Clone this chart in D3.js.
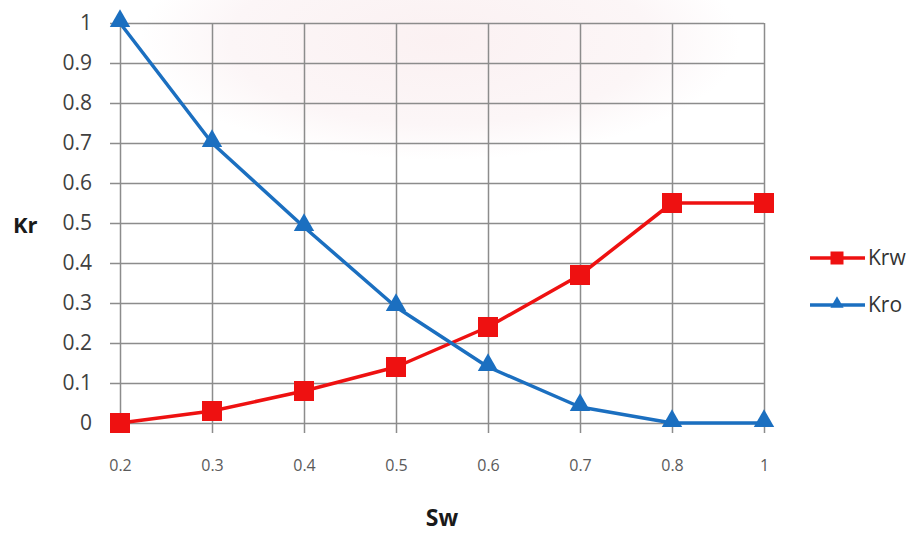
<!DOCTYPE html>
<html>
<head>
<meta charset="utf-8">
<script src="https://cdn.jsdelivr.net/npm/d3@7/dist/d3.min.js"></script>
<style>
  html, body { margin: 0; padding: 0; background: #fff; }
  svg { display: block; }
  text { font-family: "Open Sans", "Liberation Sans", sans-serif; }
</style>
</head>
<body>
<svg id="chart" width="914" height="533"></svg>
<script>
// Water saturation categories (evenly spaced on the axis)
const categories = ["0.2", "0.3", "0.4", "0.5", "0.6", "0.7", "0.8", "1"];
// Relative permeability to water
const krw = [0, 0.03, 0.08, 0.14, 0.24, 0.37, 0.55, 0.55];
// Relative permeability to oil
const kro = [1, 0.7, 0.49, 0.29, 0.14, 0.04, 0, 0];
// Vertical axis ticks
const yTicks = [0, 0.1, 0.2, 0.3, 0.4, 0.5, 0.6, 0.7, 0.8, 0.9, 1];
const yTickLabels = ["0", "0.1", "0.2", "0.3", "0.4", "0.5", "0.6", "0.7", "0.8", "0.9", "1"];

const series = [
  { name: "Krw", values: krw, color: "#ee1111", marker: "square" },
  { name: "Kro", values: kro, color: "#1b6fc0", marker: "triangle" }
];

const svg = d3.select("#chart");
const plotLeft = 120, plotRight = 764, plotTop = 23, plotBottom = 423;

const x = d3.scalePoint().domain(categories).range([plotLeft, plotRight]);
const y = d3.scaleLinear().domain([0, 1]).range([plotBottom, plotTop]);

// faint tint in the upper background
const defs = svg.append("defs");
const grad = defs.append("radialGradient").attr("id", "tint");
grad.append("stop").attr("offset", "0%").attr("stop-color", "#fbf1f2");
grad.append("stop").attr("offset", "70%").attr("stop-color", "#fcf6f7");
grad.append("stop").attr("offset", "100%").attr("stop-color", "#ffffff");
svg.append("ellipse")
  .attr("cx", 440).attr("cy", 40).attr("rx", 300).attr("ry", 120)
  .attr("fill", "url(#tint)");

// horizontal gridlines + y labels
const yAxis = svg.append("g")
  .attr("transform", `translate(${plotRight},0)`)
  .call(d3.axisLeft(y)
    .tickValues(yTicks)
    .tickFormat((d, i) => yTickLabels[i])
    .tickSize(plotRight - plotLeft + 10)
    .tickPadding(18));
yAxis.select(".domain").remove();
yAxis.selectAll(".tick line").attr("stroke", "#8c8c8c").attr("stroke-width", 1.5);
yAxis.selectAll(".tick text")
  .attr("fill", "#404040")
  .style("font-size", "21px");

// vertical gridlines + x labels
const xAxis = svg.append("g")
  .attr("transform", `translate(0,${plotTop})`)
  .call(d3.axisBottom(x)
    .tickSize(plotBottom - plotTop + 10)
    .tickPadding(27));
xAxis.select(".domain").remove();
xAxis.selectAll(".tick line").attr("stroke", "#8c8c8c").attr("stroke-width", 1.5);
xAxis.selectAll(".tick text")
  .attr("fill", "#5a5a5a")
  .style("font-size", "16px");

// axis titles
svg.append("text")
  .attr("x", 13).attr("y", 233)
  .attr("font-weight", "bold")
  .style("font-size", "22px")
  .attr("fill", "#1a1a1a")
  .text("Kr");
svg.append("text")
  .attr("x", (plotLeft + plotRight) / 2).attr("y", 526)
  .attr("text-anchor", "middle")
  .attr("font-weight", "bold")
  .style("font-size", "23px")
  .attr("fill", "#1a1a1a")
  .text("Sw");

const square = d3.symbol().type(d3.symbolSquare);
const triangle = d3.symbol().type(d3.symbolTriangle);
function markerPath(kind, size) {
  return kind === "square" ? square.size(size * size)() : triangle.size(size * size * 0.45)();
}

const line = d3.line()
  .x((d, i) => x(categories[i]))
  .y(d => y(d));

series.forEach(s => {
  const g = svg.append("g");
  g.append("path")
    .datum(s.values)
    .attr("d", line)
    .attr("fill", "none")
    .attr("stroke", s.color)
    .attr("stroke-width", 3.5)
    .attr("stroke-linejoin", "round");
  g.selectAll("path.marker")
    .data(s.values)
    .join("path")
    .attr("class", "marker")
    .attr("d", markerPath(s.marker, 20))
    .attr("transform", (d, i) => `translate(${x(categories[i])},${y(d) - (s.marker === "triangle" ? 2 : 0)})`)
    .attr("fill", s.color);
});

// legend
const legend = svg.append("g");
series.forEach((s, i) => {
  const ly = 258 + i * 47;
  legend.append("line")
    .attr("x1", 810).attr("x2", 865)
    .attr("y1", ly).attr("y2", ly)
    .attr("stroke", s.color).attr("stroke-width", 3.5);
  legend.append("path")
    .attr("d", markerPath(s.marker, 13))
    .attr("transform", `translate(837,${ly - (s.marker === "triangle" ? 1 : 0)})`)
    .attr("fill", s.color);
  legend.append("text")
    .attr("x", 868).attr("y", ly)
    .attr("dy", "0.35em")
    .style("font-size", "21px")
    .attr("fill", "#333")
    .text(s.name);
});
</script>
</body>
</html>
